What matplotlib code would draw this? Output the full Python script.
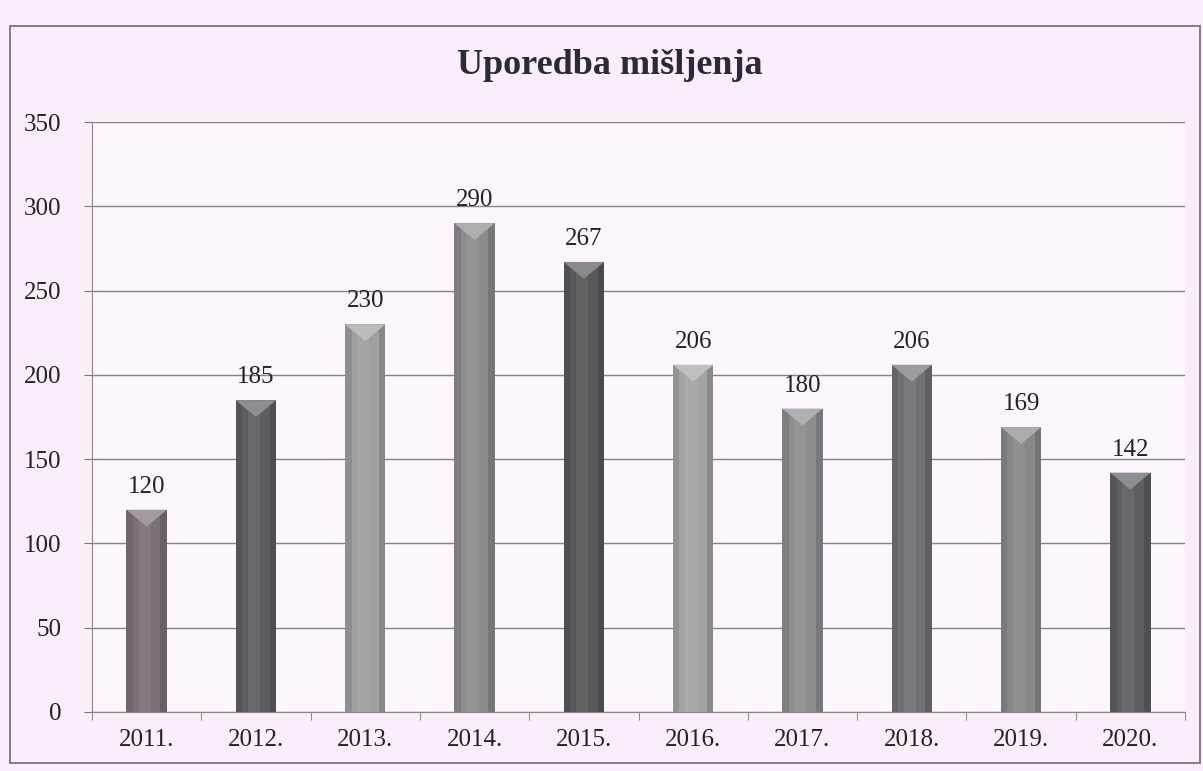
import numpy as np
import matplotlib.pyplot as plt
from matplotlib.patches import Rectangle, Polygon

years = ["2011.", "2012.", "2013.", "2014.", "2015.",
         "2016.", "2017.", "2018.", "2019.", "2020."]
counts = [120, 185, 230, 290, 267, 206, 180, 206, 169, 142]
bar_colors = ["#7a7178", "#5e5d63", "#9f9fa1", "#8b8b8e", "#58585a",
              "#a3a3a5", "#8d8d90", "#717175", "#88888a", "#5e5e62"]

plt.rcParams['font.family'] = ['Liberation Serif', 'DejaVu Serif']

fig = plt.figure(figsize=(12.03, 7.71), dpi=100)
fig.patch.set_facecolor("#fbeefb")

# outer chart frame
fig.add_artist(Rectangle((10 / 1203, 8 / 771), 1190 / 1203, 737 / 771,
                         transform=fig.transFigure, fill=False,
                         edgecolor="#777777", lw=1.3))

ax = fig.add_axes([92 / 1203, 59 / 771, 1093 / 1203, 590 / 771])
ax.set_facecolor("#fdf6fd")

x = np.arange(len(years))
w = 0.37
bars = ax.bar(x, counts, width=w, color=bar_colors, zorder=3)


def shade(c, f):
    rgb = np.array(plt.matplotlib.colors.to_rgb(c))
    return tuple(np.clip(rgb + (1 - rgb) * f, 0, 1)) if f > 0 else tuple(rgb * (1 + f))


# soft cylinder shading and the pointed cap on each bar
for xi, v, c in zip(x, counts, bar_colors):
    ax.bar(xi - w * 0.42, v, width=w * 0.16, color=shade(c, -0.10), zorder=3.5, lw=0)
    ax.bar(xi - w * 0.05, v, width=w * 0.3, color=shade(c, 0.06), zorder=3.5, lw=0)
    ax.bar(xi + w * 0.42, v, width=w * 0.16, color=shade(c, -0.15), zorder=3.5, lw=0)
    cap = Polygon([(xi - w / 2, v), (xi + w / 2, v), (xi, v - 10)],
                  closed=True, facecolor=shade(c, 0.3), edgecolor="none", zorder=4)
    ax.add_patch(cap)
    ax.text(xi, v + 7, str(v), ha="center", va="bottom", fontsize=18, color="#222222")

ax.set_ylim(0, 350)
ax.set_xlim(-0.5, len(years) - 0.5)
ax.set_yticks(np.arange(0, 351, 50))
ax.set_yticklabels([str(t) for t in range(0, 351, 50)], fontsize=18, color="#222222")
ax.set_xticks(x)
ax.set_xticklabels(years, fontsize=18, color="#222222")
ax.set_xticks(np.arange(-0.5, len(years), 1), minor=True)
ax.tick_params(axis="x", which="major", length=0, pad=12)
ax.tick_params(axis="x", which="minor", length=6, color="#777777")
ax.tick_params(axis="y", length=6, color="#777777", pad=16)

ax.grid(axis="y", color="#858585", lw=1.0, zorder=0)
for s in ["top", "right"]:
    ax.spines[s].set_visible(False)
ax.spines["left"].set_color("#888888")
ax.spines["bottom"].set_color("#888888")

fig.text(610 / 1203, 1 - 66 / 771, "Uporedba mišljenja", ha="center", va="center",
         fontsize=26, fontweight="bold", color="#2a2a3a")

fig.savefig("out.png", dpi=100, facecolor=fig.get_facecolor())
